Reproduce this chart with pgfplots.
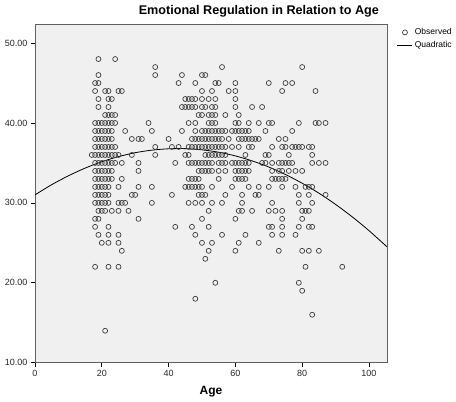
\documentclass[border=0pt]{standalone}
\usepackage{fontspec}
\setmainfont{Liberation Sans}
\usepackage{pgfplots}
\pgfplotsset{compat=1.18}
\definecolor{plotbg}{RGB}{240,240,240}
\definecolor{frame}{RGB}{95,95,95}
\definecolor{dots}{RGB}{60,60,60}
\pgfplotsset{
  obsleg/.style={legend image code/.code={\draw[mark repeat=2,mark phase=2,##1] plot coordinates {(0pt,0pt) (7.5pt,0pt) (15pt,0pt)};}},
  fitleg/.style={legend image code/.code={\draw[##1] (0pt,0pt) -- (15pt,0pt);}},
}

\begin{document}
\begin{tikzpicture}
\begin{axis}[
  scale only axis, width=352pt, height=338pt,
  xmin=0, xmax=105.4, ymin=10, ymax=52.3,
  axis background/.style={fill=plotbg},
  axis line style={frame, line width=0.9pt},
  xtick={0,20,...,100}, ytick={10,20,...,50},
  tick align=outside, xtick pos=bottom, ytick pos=left,
  major tick length=4pt, tick style={black, line width=0.6pt},
  /pgf/number format/assume math mode=true,
  y tick label style={/pgf/number format/.cd, fixed, fixed zerofill, precision=2, /tikz/.cd},
  ticklabel style={font=\fontsize{9}{10}\selectfont, text=black!85},
  title={Emotional Regulation in Relation to Age},
  title style={font=\bfseries\fontsize{12.6}{14}\selectfont, at={(0.636,1)}, anchor=base, yshift=4pt},
  xlabel={Age},
  xlabel style={font=\bfseries\fontsize{12}{14}\selectfont, at={(axis description cs:0.5,0)}, anchor=base, yshift=-32pt},
  legend style={at={(1.028,0.995)}, anchor=north west, draw=none, fill=none,
    font=\fontsize{8.5}{9}\selectfont, row sep=1pt, inner sep=0pt,
    /tikz/every even column/.append style={column sep=2pt}},
  legend cell align=left,
]
% observed: age, score (one score level per line)
\addplot[only marks, mark=o, mark size=2.5pt, dots, line width=0.7pt, obsleg]
  table[row sep=\\] {x y\\
19 48\\ 24 48\\
36 47\\ 56 47\\ 80 47\\
19 46\\ 36 46\\ 44 46\\ 50 46\\ 51 46\\
18 45\\ 19 45\\ 43 45\\ 48 45\\ 54 45\\ 55 45\\ 60 45\\ 70 45\\ 75 45\\ 77 45\\
18 44\\ 21 44\\ 22 44\\ 25 44\\ 26 44\\ 50 44\\ 53 44\\ 58 44\\ 60 44\\ 74 44\\ 84 44\\
19 43\\ 22 43\\ 23 43\\ 45 43\\ 46 43\\ 47 43\\ 48 43\\ 50 43\\ 52 43\\ 54 43\\ 60 43\\
19 42\\ 22 42\\ 44 42\\ 45 42\\ 46 42\\ 47 42\\ 48 42\\ 50 42\\ 51 42\\ 53 42\\ 54 42\\ 60 42\\ 65 42\\ 68 42\\
21 41\\ 22 41\\ 23 41\\ 24 41\\ 49 41\\ 50 41\\ 52 41\\ 53 41\\ 54 41\\ 57 41\\ 61 41\\
18 40\\ 19 40\\ 20 40\\ 21 40\\ 22 40\\ 23 40\\ 24 40\\ 34 40\\ 46 40\\ 48 40\\ 52 40\\ 53 40\\ 54 40\\ 60 40\\ 61 40\\ 64 40\\ 67 40\\ 70 40\\ 71 40\\ 79 40\\ 84 40\\ 85 40\\ 87 40\\
18 39\\ 19 39\\ 20 39\\ 21 39\\ 22 39\\ 23 39\\ 27 39\\ 35 39\\ 44 39\\ 48 39\\ 50 39\\ 51 39\\ 52 39\\ 53 39\\ 54 39\\ 55 39\\ 56 39\\ 57 39\\ 59 39\\ 60 39\\ 61 39\\ 62 39\\ 63 39\\ 64 39\\ 69 39\\ 77 39\\
18 38\\ 19 38\\ 20 38\\ 21 38\\ 22 38\\ 23 38\\ 29 38\\ 31 38\\ 32 38\\ 40 38\\ 47 38\\ 48 38\\ 49 38\\ 50 38\\ 51 38\\ 52 38\\ 53 38\\ 54 38\\ 55 38\\ 56 38\\ 58 38\\ 61 38\\ 62 38\\ 63 38\\ 64 38\\ 65 38\\ 66 38\\ 67 38\\ 73 38\\ 75 38\\
18 37\\ 19 37\\ 20 37\\ 21 37\\ 22 37\\ 23 37\\ 24 37\\ 36 37\\ 41 37\\ 43 37\\ 46 37\\ 47 37\\ 48 37\\ 49 37\\ 50 37\\ 51 37\\ 52 37\\ 53 37\\ 54 37\\ 55 37\\ 56 37\\ 57 37\\ 59 37\\ 61 37\\ 64 37\\ 65 37\\ 71 37\\ 74 37\\ 75 37\\ 77 37\\ 78 37\\ 79 37\\ 80 37\\ 82 37\\ 83 37\\
17 36\\ 18 36\\ 19 36\\ 20 36\\ 21 36\\ 22 36\\ 23 36\\ 24 36\\ 25 36\\ 29 36\\ 36 36\\ 45 36\\ 46 36\\ 51 36\\ 52 36\\ 53 36\\ 54 36\\ 55 36\\ 56 36\\ 57 36\\ 63 36\\ 69 36\\ 70 36\\ 76 36\\ 83 36\\
18 35\\ 19 35\\ 20 35\\ 21 35\\ 22 35\\ 23 35\\ 24 35\\ 26 35\\ 31 35\\ 42 35\\ 46 35\\ 47 35\\ 48 35\\ 49 35\\ 50 35\\ 51 35\\ 52 35\\ 53 35\\ 55 35\\ 56 35\\ 57 35\\ 59 35\\ 60 35\\ 61 35\\ 62 35\\ 63 35\\ 64 35\\ 68 35\\ 69 35\\ 71 35\\ 73 35\\ 74 35\\ 75 35\\ 76 35\\ 77 35\\ 83 35\\ 85 35\\ 87 35\\
18 34\\ 19 34\\ 20 34\\ 21 34\\ 22 34\\ 23 34\\ 31 34\\ 49 34\\ 50 34\\ 51 34\\ 52 34\\ 53 34\\ 55 34\\ 57 34\\ 60 34\\ 61 34\\ 62 34\\ 63 34\\ 64 34\\ 71 34\\ 73 34\\ 74 34\\ 76 34\\ 78 34\\ 80 34\\
18 33\\ 19 33\\ 20 33\\ 21 33\\ 22 33\\ 23 33\\ 26 33\\ 46 33\\ 47 33\\ 48 33\\ 49 33\\ 55 33\\ 60 33\\ 61 33\\ 62 33\\ 63 33\\ 71 33\\ 72 33\\ 73 33\\ 74 33\\ 75 33\\
18 32\\ 19 32\\ 20 32\\ 21 32\\ 22 32\\ 25 32\\ 31 32\\ 35 32\\ 45 32\\ 46 32\\ 47 32\\ 48 32\\ 49 32\\ 50 32\\ 53 32\\ 59 32\\ 64 32\\ 67 32\\ 70 32\\ 74 32\\ 78 32\\ 81 32\\ 82 32\\ 83 32\\
18 31\\ 19 31\\ 20 31\\ 21 31\\ 22 31\\ 29 31\\ 30 31\\ 41 31\\ 49 31\\ 50 31\\ 51 31\\ 57 31\\ 62 31\\ 66 31\\ 67 31\\ 79 31\\ 82 31\\ 87 31\\
18 30\\ 19 30\\ 20 30\\ 21 30\\ 22 30\\ 25 30\\ 26 30\\ 27 30\\ 35 30\\ 46 30\\ 48 30\\ 50 30\\ 53 30\\ 56 30\\ 62 30\\ 71 30\\ 79 30\\ 83 30\\
19 29\\ 20 29\\ 21 29\\ 23 29\\ 25 29\\ 28 29\\ 52 29\\ 61 29\\ 62 29\\ 65 29\\ 70 29\\ 72 29\\ 74 29\\ 80 29\\ 81 29\\ 82 29\\
18 28\\ 19 28\\ 31 28\\ 50 28\\ 60 28\\ 74 28\\ 80 28\\
18 27\\ 22 27\\ 42 27\\ 47 27\\ 52 27\\ 70 27\\ 71 27\\ 74 27\\ 79 27\\ 82 27\\ 83 27\\
19 26\\ 22 26\\ 25 26\\ 48 26\\ 56 26\\ 63 26\\ 71 26\\ 74 26\\ 78 26\\
20 25\\ 22 25\\ 25 25\\ 50 25\\ 53 25\\ 61 25\\ 67 25\\
26 24\\ 52 24\\ 60 24\\ 73 24\\ 80 24\\ 82 24\\ 85 24\\
51 23\\
18 22\\ 22 22\\ 25 22\\ 81 22\\ 92 22\\
54 20\\ 79 20\\
80 19\\
48 18\\
83 16\\
21 14\\
};
\addlegendentry{Observed}
% quadratic fit
\addplot[black, line width=0.8pt, smooth, fitleg]
  coordinates {(0,31.00) (5,32.28) (10,33.39) (15,34.35) (20,35.15) (25,35.79)
    (30,36.28) (35,36.60) (40,36.77) (45,36.79) (50,36.64) (55,36.34)
    (60,35.88) (65,35.26) (70,34.49) (75,33.55) (80,32.46) (85,31.22)
    (90,29.81) (95,28.25) (100,26.53) (105.4,24.50)};
\addlegendentry{Quadratic}
\end{axis}
\pgfresetboundingbox
\path[use as bounding box] (-35pt,-39.3pt) rectangle (421pt,362.7pt);
\end{tikzpicture}
\end{document}
